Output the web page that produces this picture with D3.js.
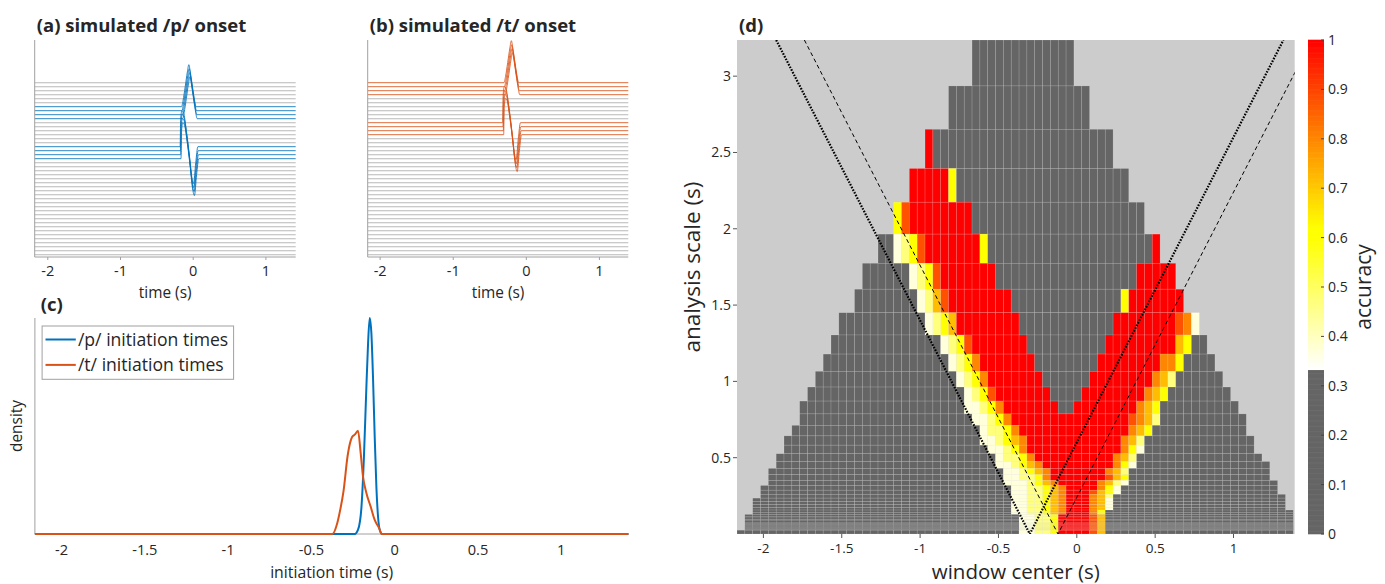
<!DOCTYPE html>
<html><head><meta charset="utf-8">
<script src="https://cdn.jsdelivr.net/npm/d3@7"></script>
<style>
body{margin:0;background:#fff;}
text{font-family:"Open Sans",sans-serif;fill:#262626;}
</style>
</head><body>
<svg id="chart" width="1385" height="584"></svg>
<script>
// ================= DATA =================
// (a)/(b) stacked simulated traces
const traceCount = 44;
const timeTicks = [-2, -1, 0, 1];
const waveMonoT = [0, 0.02, 0.05, 0.08, 0.1, 0.12, 0.15, 0.18, 0.2];
const waveMonoA = [0, 1.5, 5, 8.7, 10.5, 8.7, 5, 1.5, 0];
const waveBiT = [0, 0.008, 0.025, 0.045, 0.09, 0.13, 0.16, 0.185, 0.215, 0.245];
const waveBiA = [0, 7, 9, 8.6, 3.5, -2.5, -7.5, -9.2, -4, 0];
const pMonoTraces = [6, 7, 8, 9],    pMonoOnsets = [-0.16, -0.155, -0.15, -0.145];
const pBiTraces   = [16, 17, 18, 19], pBiOnsets   = [-0.18, -0.176, -0.172, -0.168];
const tMonoTraces = [0, 1, 2, 3],    tMonoOnsets = [-0.305, -0.3, -0.295, -0.29];
const tBiTraces   = [10, 11, 12, 13], tBiOnsets   = [-0.325, -0.32, -0.315, -0.31];

// (c) densities of initiation times
const densTicks = [-2, -1.5, -1, -0.5, 0, 0.5, 1];
const pDensX = [-2.16, -0.24, -0.22, -0.2, -0.185, -0.17, -0.16, -0.15, -0.14, -0.13, -0.12, -0.11, -0.1, -0.09, -0.075, 1.403];
const pDensY = [0, 0, 0.02, 0.12, 0.35, 0.68, 0.88, 1.0, 0.93, 0.72, 0.45, 0.22, 0.08, 0.02, 0, 0];
const tDensX = [-2.16, -0.375, -0.345, -0.325, -0.307, -0.283, -0.265, -0.255, -0.24, -0.22, -0.205, -0.19, -0.17, -0.144, -0.12, -0.093, -0.078, 1.403];
const tDensY = [0, 0, 0.05, 0.12, 0.2, 0.36, 0.43, 0.45, 0.46, 0.478, 0.38, 0.265, 0.19, 0.126, 0.065, 0.026, 0, 0];
const legendLabels = ["/p/ initiation times", "/t/ initiation times"];

// (d) accuracy map
const centerTicks = [-2, -1.5, -1, -0.5, 0, 0.5, 1];
const scaleTicks = [0.5, 1, 1.5, 2, 2.5, 3];
const accTicks = [0, 0.1, 0.2, 0.3, 0.4, 0.5, 0.6, 0.7, 0.8, 0.9, 1];
const windowCenters = d3.range(71).map(k => +(-2.1435 + 0.05 * k).toFixed(4));
const scaleEdges = [3.237, 2.936, 2.652, 2.395, 2.174, 1.965, 1.774, 1.604, 1.450, 1.304,
  1.179, 1.066, 0.963, 0.871, 0.787, 0.712, 0.643, 0.582, 0.526, 0.475, 0.430, 0.389,
  0.351, 0.318, 0.287, 0.260, 0.235, 0.212, 0.192, 0.174, 0.157, 0.142, 0.128, 0.116,
  0.105, 0.095, 0.086, 0.077, 0.070, 0.063, 0.057, 0.052, 0.047, 0.042, 0.038, 0.034,
  0.031, 0.028, 0.025, 0];
// accuracy levels ('.' = no value)
const accCodes = {'-': 0.2, 'w': 0.37, 'l': 0.47, 'Y': 0.62, 'g': 0.72, 'o': 0.8, 'O': 0.88, 'R': 1.0};
// one run-length string per scale row (top to bottom), 71 window centres each
const accRows = [
  ".30 -13 .28",
  ".27 -18 .26",
  ".24 R -23 .23",
  ".22 R5 Y -22 .21",
  ".20 Y O R8 -22 .19",
  ".18 -2 w l Y O R7 Y -21 R .17",
  ".16 -6 w l Y O R7 -18 R5 .15",
  ".15 -8 w l g O R8 -14 Y R7 .14",
  ".13 -11 w l Y g R8 -12 R8 O o w .12",
  ".12 -14 w l Y O R7 -10 R9 g Y -2 .11",
  ".11 -16 w l Y o R7 -8 R8 o o Y -4 .10",
  ".10 -18 w l Y o R7 -6 R8 o g l -6 .9",
  ".9 -20 w l Y O R7 -4 R8 o g Y -8 .8",
  ".8 -21 w w l Y o R7 -2 R8 o g Y -10 .7",
  ".8 -22 w w l Y o R15 O o g l -11 .6",
  ".7 -24 w l l Y o R14 o g Y -12 .6",
  ".6 -25 w w l Y g o R12 o g l -14 .5",
  ".6 -26 w w l Y o R12 o Y w -14 .5",
  ".5 -28 w l l Y o R10 o g l -16 .4",
  ".5 -28 w w l Y g o R9 o Y w -17 .3",
  ".4 -30 w w l Y g o R7 o g l -18 .3",
  ".4 -30 w w l l Y o R7 O g Y -18 .3",
  ".4 -30 w w w l Y g o R5 o g l w -19 .2",
  ".3 -32 w w l l Y g o R4 o Y w -20 .2",
  ".3 -32 w w l l Y g o R3 O g Y w -20 .2",
  ".3 -32 w w l l Y g o R3 o g l -22 .1",
  ".2 -33 w w l l Y g o R3 o g w -22 .1",
  ".2 -33 w w l l Y g o R3 o g w -22 .1",
  ".2 -33 w w l l Y g o R3 o g w -22 .1",
  ".2 -33 w w l l Y g o R3 o g w -22 .1",
  ".2 -33 w w l l Y g o R3 o Y -24",
  ".2 -33 w w l l Y g o R3 o Y -24",
  ".1 -35 w w l l Y R4 O g -24",
  ".1 -35 w w l l Y R4 O g -24",
  ".1 -35 w w l l Y R4 O g -24",
  ".1 -35 w w l l Y R4 O g -24",
  ".1 -35 w w l l Y R4 O g -24",
  ".1 -35 w w l l Y R4 O g -24",
  ".1 -35 w w l l Y R4 O g -24",
  ".1 -35 w w l l Y R4 O g -24",
  ".1 -35 w w l l Y R4 O g -24",
  ".1 -35 w w l l Y R4 O g -24",
  ".1 -35 w w l l Y R4 O g -24",
  ".1 -35 w w l l Y R4 O g -24",
  ".1 -35 w w l l Y R4 O g -24",
  ".1 -35 w w l l Y R4 O g -24",
  ".1 -35 w w l l Y R4 O g -24",
  ".1 -35 w w l l Y R4 O g -24",
  "-36 w w l l Y R4 O g -24"
];
const onsetDotted = -0.3, onsetDashed = -0.12;

// ================= DRAWING =================
const svg = d3.select("#chart");
const AX = "#a0a0a0";
const BLUE = "#0072BD", ORANGE = "#D95319";

function colorOf(a) {
  if (a < 1 / 3) return "#656565";
  const b = Math.max(0, 1 - (a - 1 / 3) / (0.6 - 1 / 3));
  const g = a < 0.62 ? 1 : Math.max(0, 1 - (a - 0.62) / 0.38);
  return d3.rgb(255, Math.round(255 * g), Math.round(255 * b)).formatHex();
}

// ---------- (a) & (b) ----------
function tracePanel(x0, x1, dom, title, monoIdx, monoOn, biIdx, biOn, col) {
  const x = d3.scaleLinear().domain(dom).range([x0, x1]);
  const y = d3.scaleLinear().domain([-43.575, 10.675]).range([257, 40]);
  const g = svg.append("g");
  const line = d3.line().x(d => x(d[0])).y(d => y(d[1])).curve(d3.curveMonotoneX);
  const special = new Map();
  monoIdx.forEach((i, j) => special.set(i, {t: waveMonoT, a: waveMonoA, on: monoOn[j]}));
  biIdx.forEach((i, j) => special.set(i, {t: waveBiT, a: waveBiA, on: biOn[j]}));
  const idx = d3.range(traceCount);
  g.selectAll("path.gr").data(idx.filter(i => !special.has(i))).join("path")
    .attr("d", i => line([[dom[0], -i], [dom[1], -i]]))
    .attr("fill", "none").attr("stroke", "#b8b8b8").attr("stroke-width", 1.1);
  g.selectAll("path.co").data(idx.filter(i => special.has(i))).join("path")
    .attr("d", i => {
      const s = special.get(i);
      const pts = [[dom[0], -i]];
      s.t.forEach((t, k) => pts.push([s.on + t, -i + s.a[k]]));
      pts.push([dom[1], -i]);
      return line(pts);
    })
    .attr("fill", "none").attr("stroke", col).attr("stroke-width", 1).attr("stroke-opacity", 0.85);
  g.append("line").attr("x1", x0).attr("x2", x0).attr("y1", 40).attr("y2", 257).attr("stroke", AX);
  g.append("line").attr("x1", x0).attr("x2", x1).attr("y1", 257).attr("y2", 257).attr("stroke", AX);
  g.selectAll("line.tk").data(timeTicks).join("line")
    .attr("x1", d => x(d)).attr("x2", d => x(d)).attr("y1", 257).attr("y2", 260).attr("stroke", AX);
  g.selectAll("text.tl").data(timeTicks).join("text")
    .attr("x", d => x(d)).attr("y", 271).attr("dy", "0.35em").attr("text-anchor", "middle")
    .attr("font-size", 14.5).text(d => d);
  g.append("text").attr("x", (x0 + x1) / 2).attr("y", 293).attr("dy", "0.35em").attr("text-anchor", "middle")
    .attr("font-size", 15.4).text("time (s)");
  g.append("text").attr("x", x0 + 2).attr("y", 31.5).attr("font-size", 18.5).attr("font-weight", 700).text(title);
}
tracePanel(34.7, 295.7, [-2.18, 1.41], "(a) simulated /p/ onset", pMonoTraces, pMonoOnsets, pBiTraces, pBiOnsets, BLUE);
tracePanel(367.7, 628.3, [-2.17, 1.395], "(b) simulated /t/ onset", tMonoTraces, tMonoOnsets, tBiTraces, tBiOnsets, ORANGE);

// ---------- (c) ----------
(function () {
  const CX0 = 34.9, CX1 = 628.4;
  const x = d3.scaleLinear().domain([-2.16, 1.403]).range([CX0, CX1]);
  const y = d3.scaleLinear().domain([0, 1]).range([534, 318]);
  const g = svg.append("g");
  g.append("line").attr("x1", CX0).attr("x2", CX0).attr("y1", 318).attr("y2", 534).attr("stroke", AX);
  g.append("line").attr("x1", CX0).attr("x2", CX1).attr("y1", 534).attr("y2", 534).attr("stroke", AX);
  const line = d3.line().x(d => x(d[0])).y(d => y(d[1])).curve(d3.curveMonotoneX);
  g.append("path").attr("d", line(pDensX.map((v, i) => [v, pDensY[i]])))
    .attr("fill", "none").attr("stroke", BLUE).attr("stroke-width", 2);
  g.append("path").attr("d", line(tDensX.map((v, i) => [v, tDensY[i]])))
    .attr("fill", "none").attr("stroke", ORANGE).attr("stroke-width", 2);
  g.selectAll("text.tl").data(densTicks).join("text")
    .attr("x", d => x(d)).attr("y", 550).attr("dy", "0.35em").attr("text-anchor", "middle")
    .attr("font-size", 14.6).text(d => d);
  g.append("text").attr("x", (CX0 + CX1) / 2).attr("y", 572).attr("dy", "0.35em").attr("text-anchor", "middle")
    .attr("font-size", 15.8).text("initiation time (s)");
  g.append("text").attr("transform", "translate(17,426) rotate(-90)").attr("dy", "0.35em")
    .attr("text-anchor", "middle").attr("font-size", 15.4).text("density");
  g.append("text").attr("x", 40.8).attr("y", 310.5).attr("font-size", 18.5).attr("font-weight", 700).text("(c)");
  const lg = g.append("g");
  lg.append("rect").attr("x", 42.1).attr("y", 326).attr("width", 191.5).attr("height", 53.3)
    .attr("fill", "#fff").attr("stroke", AX);
  [BLUE, ORANGE].forEach((c, i) => {
    const yy = 339.5 + i * 25.4;
    lg.append("line").attr("x1", 45.5).attr("x2", 75.8).attr("y1", yy).attr("y2", yy).attr("stroke", c).attr("stroke-width", 2);
    lg.append("text").attr("x", 77.9).attr("y", yy).attr("dy", "0.35em").attr("font-size", 17.6).text(legendLabels[i]);
  });
})();

// ---------- (d) ----------
(function () {
  const X0 = 737, X1 = 1294.7, Y0 = 534, Y1 = 40;
  const x = d3.scaleLinear().domain([-2.1685, 1.3905]).range([X0, X1]);
  const y = d3.scaleLinear().domain([0, 3.237]).range([Y0, Y1]);
  const g = svg.append("g");
  svg.append("defs").append("clipPath").attr("id", "clipd").append("rect")
    .attr("x", X0).attr("y", Y1).attr("width", X1 - X0).attr("height", Y0 - Y1);
  g.append("rect").attr("x", X0).attr("y", Y1).attr("width", X1 - X0).attr("height", Y0 - Y1).attr("fill", "#cccccc");

  const cells = [];
  accRows.forEach((rowStr, r) => {
    const codes = [];
    rowStr.trim().split(/\s+/).forEach(tok => {
      const n = tok.length > 1 ? +tok.slice(1) : 1;
      for (let i = 0; i < n; i++) codes.push(tok[0]);
    });
    windowCenters.forEach((c, k) => {
      const code = codes[k];
      if (code && code !== '.') cells.push({c, sHi: scaleEdges[r], sLo: scaleEdges[r + 1], acc: accCodes[code]});
    });
  });
  g.append("g").selectAll("rect").data(cells).join("rect")
    .attr("x", d => x(d.c - 0.025)).attr("width", d => x(d.c + 0.025) - x(d.c - 0.025))
    .attr("y", d => y(d.sHi)).attr("height", d => y(d.sLo) - y(d.sHi))
    .attr("fill", d => colorOf(d.acc))
    .attr("stroke", "#ffffff").attr("stroke-opacity", 0.22)
    .attr("stroke-width", d => Math.min(0.6, (y(d.sLo) - y(d.sHi)) * 0.22));

  const sTop = 3.237;
  const vLine = c => [[c - sTop / 2, sTop], [c, 0], [c + sTop / 2, sTop]];
  const ln = d3.line().x(d => x(d[0])).y(d => y(d[1]));
  g.append("path").attr("d", ln(vLine(onsetDotted))).attr("clip-path", "url(#clipd)")
    .attr("fill", "none").attr("stroke", "#000").attr("stroke-width", 2.2).attr("stroke-dasharray", "1.6,1.4");
  g.append("path").attr("d", ln(vLine(onsetDashed))).attr("clip-path", "url(#clipd)")
    .attr("fill", "none").attr("stroke", "#000").attr("stroke-width", 1).attr("stroke-dasharray", "4,3");

  g.selectAll("line.xt").data(centerTicks).join("line")
    .attr("x1", d => x(d)).attr("x2", d => x(d)).attr("y1", Y0).attr("y2", Y0 + 4).attr("stroke", "#555");
  g.selectAll("text.xl").data(centerTicks).join("text")
    .attr("x", d => x(d)).attr("y", 548.5).attr("dy", "0.35em").attr("text-anchor", "middle")
    .attr("font-size", 13.5).text(d => d);
  g.selectAll("line.yt").data(scaleTicks).join("line")
    .attr("x1", X0 - 4).attr("x2", X0).attr("y1", d => y(d)).attr("y2", d => y(d)).attr("stroke", "#555");
  g.selectAll("text.yl").data(scaleTicks).join("text")
    .attr("x", 731).attr("y", d => y(d)).attr("dy", "0.35em").attr("text-anchor", "end")
    .attr("font-size", 14).text(d => d);
  g.append("text").attr("x", 1015.8).attr("y", 579).attr("text-anchor", "middle")
    .attr("font-size", 20.5).text("window center (s)");
  g.append("text").attr("transform", "translate(692,267) rotate(-90)").attr("dy", "0.35em")
    .attr("text-anchor", "middle").attr("font-size", 22.5).text("analysis scale (s)");
  g.append("text").attr("x", 739).attr("y", 31.5).attr("font-size", 18.5).attr("font-weight", 700).text("(d)");

  const cb = svg.append("g");
  const cy = d3.scaleLinear().domain([0, 1]).range([Y0, Y1]);
  const steps = d3.range(0, 1, 0.0025);
  cb.selectAll("rect").data(steps).join("rect")
    .attr("x", 1308).attr("width", 16)
    .attr("y", d => cy(d + 0.0025) - 0.3).attr("height", d => cy(d) - cy(d + 0.0025) + 0.6)
    .attr("fill", d => colorOf(d + 0.00125));
  cb.selectAll("line").data(accTicks).join("line")
    .attr("x1", 1321).attr("x2", 1324).attr("y1", d => cy(d)).attr("y2", d => cy(d)).attr("stroke", "#444");
  cb.selectAll("text.t").data(accTicks).join("text")
    .attr("x", 1328).attr("y", d => cy(d)).attr("dy", "0.35em").attr("font-size", 14)
    .text(d => String(+d.toFixed(1)));
  cb.append("text").attr("transform", "translate(1364,287) rotate(-90)").attr("dy", "0.35em")
    .attr("text-anchor", "middle").attr("font-size", 21).text("accuracy");
})();
</script>
</body></html>
